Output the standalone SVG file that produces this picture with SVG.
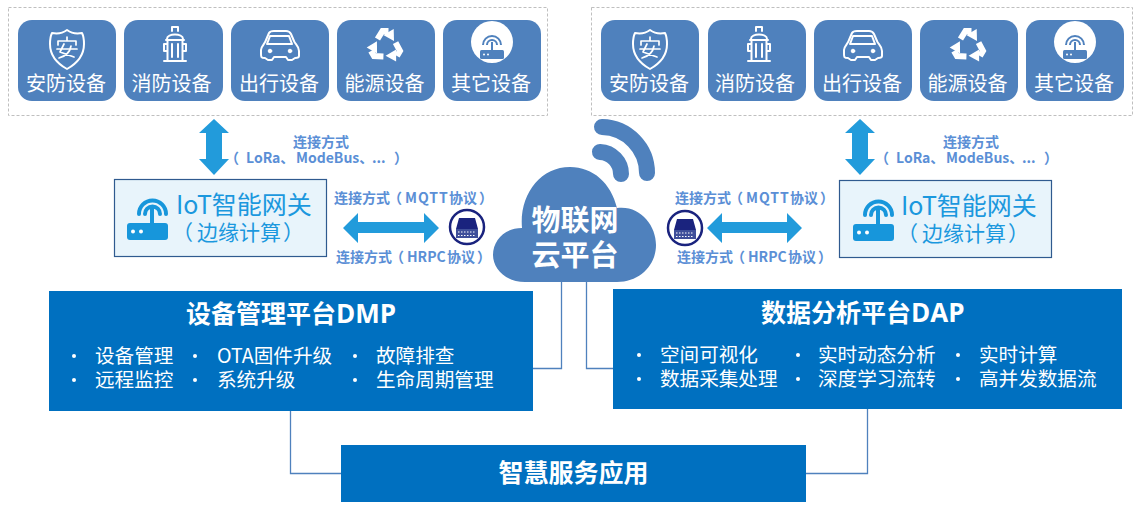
<svg xmlns="http://www.w3.org/2000/svg" xmlns:xlink="http://www.w3.org/1999/xlink" width="1136" height="508" viewBox="0 0 1136 508">
<style>
text{font-family:"Noto Sans CJK SC","Noto Sans",sans-serif}
.dash{fill:#fff;stroke:#bfbfbf;stroke-width:1;stroke-dasharray:3 2}
.tile{fill:#4f81bd}
.tl{fill:#fff;font-size:20px;text-anchor:middle}
.ic{fill:none;stroke:#fff;stroke-width:2;stroke-linejoin:round;stroke-linecap:round}
.arrow{fill:#229bdb}
.cn{fill:none;stroke:#4f81bd;stroke-width:1.300}
.gw{fill:#e8f4fb;stroke:#2f5a8f;stroke-width:1.200}
.g1{fill:#1b98de;font-size:25px}
.g2{fill:#1b98de;font-size:21px}
.sm{fill:#5b8fd6;font-size:14px;font-weight:700}
.ls{letter-spacing:1px}
.bx{fill:#0070c0}
.h1{fill:#fff;font-size:25px;font-weight:700}
.la{font-family:"Open Sans",sans-serif;font-size:26px}
.it{fill:#fff;font-size:19.600px}
.bl{fill:#fff}
</style>
<defs>
<g id="shield" class="ic"><path d="M67 30C71 33 77 34 82 33C84 37 84 40 84 44C84 56 76 64 67 69C58 64 50 56 50 44C50 40 50 37 52 33C57 34 63 33 67 30Z"/><path d="M58 45V41H76V45M67 37V41M57 49H77M64 44L60 52L74 57M71 46C70 52 66 56 59 58" stroke-width="1.700"/></g>
<g id="hydrant" class="ic"><path d="M172 31V27H178V31M167 39C167 33 183 33 183 39M166 40H184M167.500 40V60M182.500 40V60M164 61H186M167 44H164V51H167M183 44H186V51H183M172 44V57M178 44V57"/></g>
<g id="car" class="ic"><path d="M261 50C261 46 265 44 266 40L269 33C270 31 272 31 274 31H286C289 31 290 32 291 34L294 41C295 44 299 46 299 51V56C299 58 297 58 295 58L292 60H288L286 57H274L272 60H268L265 58C261 58 261 57 261 54Z"/><path d="M270 36H289L292 44H267Z"/><circle cx="270" cy="51" r="1.800" fill="#fff" stroke-width="1"/><circle cx="290" cy="51" r="1.800" fill="#fff" stroke-width="1"/></g>
<g id="arrow3"><path d="M-8 -7L-3 -15H3" fill="none" stroke="#fff" stroke-width="6"/><path d="M8.200 -17L-2.200 -11L8.500 -5Z" fill="#fff"/></g>
<g id="recycle" transform="translate(385.500 46)"><use href="#arrow3"/><use href="#arrow3" transform="rotate(120)"/><use href="#arrow3" transform="rotate(240)"/></g>
<g id="router"><rect x="127" y="223" width="41" height="17" rx="3"/><rect x="150" y="208" width="4" height="16"/><circle cx="133" cy="231.500" r="2" fill="#fff"/><circle cx="141" cy="231.500" r="2" fill="#fff"/><path d="M139 214A13.500 13.500 0 0 1 166 214M145 214A7.500 7.500 0 0 1 160 214" fill="none" stroke="currentColor" stroke-width="4" stroke-linecap="round"/></g>
<g id="minirouter"><circle cx="492" cy="42" r="21" fill="#fff"/><rect x="480" y="50" width="24" height="9" rx="1.500" fill="#4f81bd"/><rect x="491" y="42" width="2" height="9" fill="#4f81bd"/><circle cx="484" cy="54.500" r="1" fill="#fff"/><circle cx="488" cy="54.500" r="1" fill="#fff"/><path d="M483 45A9 9 0 0 1 501 45M487 45A5 5 0 0 1 497 45" fill="none" stroke="#4f81bd" stroke-width="2"/></g>
<g id="switch"><circle cx="467" cy="227" r="17" fill="#fff" stroke="#1a237e" stroke-width="2.500"/><path d="M459 218H475L478 229H456Z" fill="#1a237e"/><rect x="456" y="229" width="22" height="9" fill="#3f4f9a"/><path d="M458 232H476M458 235.500H476" stroke="#fff" stroke-width="1.200" stroke-dasharray="1.500 1.500"/></g>
</defs>

<g id="connectors">
<path class="cn" d="M561.500 282V368.500H533"/>
<path class="cn" d="M586.500 282V368.500H613"/>
<path class="cn" d="M290.500 411V473.500H341"/>
<path class="cn" d="M867.500 409V473.500H806"/>
</g>

<g id="devices-left">
<rect class="dash" x="8.500" y="7.500" width="539" height="108"/>
<g id="l-security"><rect class="tile" x="18" y="20" width="98" height="81" rx="14"/><use href="#shield"/><text class="tl" x="66" y="91">安防设备</text></g>
<g id="l-fire"><rect class="tile" x="124" y="20" width="99" height="81" rx="14"/><use href="#hydrant"/><text class="tl" x="171.500" y="91">消防设备</text></g>
<g id="l-travel"><rect class="tile" x="231" y="20" width="98" height="81" rx="14"/><use href="#car"/><text class="tl" x="279" y="91">出行设备</text></g>
<g id="l-energy"><rect class="tile" x="337" y="20" width="98" height="81" rx="14"/><use href="#recycle"/><text class="tl" x="384.500" y="91">能源设备</text></g>
<g id="l-other"><rect class="tile" x="443" y="20" width="98" height="81" rx="14"/><use href="#minirouter"/><text class="tl" x="491" y="91">其它设备</text></g>
</g>

<g id="devices-right">
<rect class="dash" x="591.500" y="7.500" width="541" height="108"/>
<g transform="translate(583 0)" id="r-security"><rect class="tile" x="18" y="20" width="98" height="81" rx="14"/><use href="#shield"/><text class="tl" x="66" y="91">安防设备</text></g>
<g transform="translate(584 0)" id="r-fire"><rect class="tile" x="124" y="20" width="98" height="81" rx="14"/><use href="#hydrant"/><text class="tl" x="171" y="91">消防设备</text></g>
<g transform="translate(583 0)" id="r-travel"><rect class="tile" x="231" y="20" width="98" height="81" rx="14"/><use href="#car"/><text class="tl" x="279" y="91">出行设备</text></g>
<g transform="translate(583 0)" id="r-energy"><rect class="tile" x="337" y="20" width="98" height="81" rx="14"/><use href="#recycle"/><text class="tl" x="384.500" y="91">能源设备</text></g>
<g transform="translate(583 0)" id="r-other"><rect class="tile" x="443" y="20" width="98" height="81" rx="14"/><use href="#minirouter"/><text class="tl" x="491" y="91">其它设备</text></g>
</g>

<g id="arrows">
<path class="arrow" d="M214 119L229 133H222V159H229L214 175L199 159H206V133H199Z"/>
<path class="arrow" d="M860 119L875 133H868V159H875L860 175L845 159H852V133H845Z"/>
<path class="arrow" d="M343 228L358 213V222H424V213L439 228L424 243V233H358V243Z"/>
<path class="arrow" d="M707 228L722 213V222H787V213L802 228L787 243V233H722V243Z"/>
</g>

<g id="labels">
<text class="sm" x="293" y="147">连接方式</text>
<text class="sm" y="163"><tspan x="225">（</tspan><tspan x="246">LoRa、</tspan><tspan x="296">ModeBus、</tspan><tspan x="372">...</tspan><tspan x="394">）</tspan></text>
<text class="sm" y="203"><tspan x="334">连接方式</tspan><tspan x="388">（</tspan><tspan x="405" class="ls">MQTT</tspan><tspan x="449">协议</tspan><tspan x="479">）</tspan></text>
<text class="sm" y="262"><tspan x="336">连接方式</tspan><tspan x="390">（</tspan><tspan x="407">HRPC</tspan><tspan x="447">协议</tspan><tspan x="477">）</tspan></text>
<text class="sm" x="943" y="147">连接方式</text>
<text class="sm" y="163"><tspan x="875">（</tspan><tspan x="896">LoRa、</tspan><tspan x="946">ModeBus、</tspan><tspan x="1022">...</tspan><tspan x="1044">）</tspan></text>
<text class="sm" y="203"><tspan x="675">连接方式</tspan><tspan x="729">（</tspan><tspan x="746" class="ls">MQTT</tspan><tspan x="790">协议</tspan><tspan x="820">）</tspan></text>
<text class="sm" y="262"><tspan x="677">连接方式</tspan><tspan x="731">（</tspan><tspan x="748">HRPC</tspan><tspan x="788">协议</tspan><tspan x="818">）</tspan></text>
</g>

<g id="gateway-left">
<rect class="gw" x="114.500" y="179.500" width="212" height="77"/>
<use href="#router" fill="#1796db" color="#1796db"/>
<text class="g1" x="176" y="214">IoT智能网关</text>
<text class="g2" y="240"><tspan x="172">（</tspan><tspan x="197">边缘计算</tspan><tspan x="283">）</tspan></text>
</g>
<g id="gateway-right">
<rect class="gw" x="839.500" y="180.500" width="212" height="77"/>
<use href="#router" transform="translate(726 1)" fill="#1796db" color="#1796db"/>
<text class="g1" x="901" y="215">IoT智能网关</text>
<text class="g2" y="241"><tspan x="897">（</tspan><tspan x="922">边缘计算</tspan><tspan x="1008">）</tspan></text>
</g>
<g id="switch-left"><use href="#switch"/></g>
<g id="switch-right"><use href="#switch" transform="translate(218 1)"/></g>

<g id="cloud">
<path d="M525 282C505 282 493 268 493 255C493 240 505 228 522 228C519 195 540 167 570 167C593 167 611 183 617 208C640 205 656 225 656 245C656 265 640 282 617 282Z" fill="#4f81bd"/>
<path d="M602 127A46 46 0 0 1 647 173M600 152A22 22 0 0 1 621 174" fill="none" stroke="#4f81bd" stroke-width="16" stroke-linecap="round"/>
<text x="575" y="231" fill="#fff" font-size="29" font-weight="700" text-anchor="middle">物联网</text>
<text x="575" y="266" fill="#fff" font-size="29" font-weight="700" text-anchor="middle">云平台</text>
</g>

<g id="dmp">
<rect class="bx" x="49" y="291" width="484" height="120"/>
<text class="h1" x="186" y="323">设备管理平台<tspan class="la">DMP</tspan></text>
<circle class="bl" cx="74" cy="356" r="2"/><circle class="bl" cx="74" cy="380" r="2"/>
<circle class="bl" cx="195" cy="356" r="2"/><circle class="bl" cx="195" cy="380" r="2"/>
<circle class="bl" cx="355" cy="356" r="2"/><circle class="bl" cx="355" cy="380" r="2"/>
<text class="it" x="95" y="363">设备管理</text><text class="it" x="95" y="387">远程监控</text>
<text class="it" x="217" y="363">OTA固件升级</text><text class="it" x="217" y="387">系统升级</text>
<text class="it" x="376" y="363">故障排查</text><text class="it" x="376" y="387">生命周期管理</text>
</g>
<g id="dap">
<rect class="bx" x="613" y="289" width="509" height="120"/>
<text class="h1" x="761" y="322">数据分析平台<tspan class="la">DAP</tspan></text>
<circle class="bl" cx="639" cy="355" r="2"/><circle class="bl" cx="639" cy="379" r="2"/>
<circle class="bl" cx="798" cy="355" r="2"/><circle class="bl" cx="798" cy="379" r="2"/>
<circle class="bl" cx="958" cy="355" r="2"/><circle class="bl" cx="958" cy="379" r="2"/>
<text class="it" x="660" y="362">空间可视化</text><text class="it" x="660" y="386">数据采集处理</text>
<text class="it" x="818" y="362">实时动态分析</text><text class="it" x="818" y="386">深度学习流转</text>
<text class="it" x="979" y="362">实时计算</text><text class="it" x="979" y="386">高并发数据流</text>
</g>
<g id="apps">
<rect class="bx" x="341" y="445" width="465" height="57"/>
<text class="h1" x="573.500" y="482" text-anchor="middle">智慧服务应用</text>
</g>
</svg>
